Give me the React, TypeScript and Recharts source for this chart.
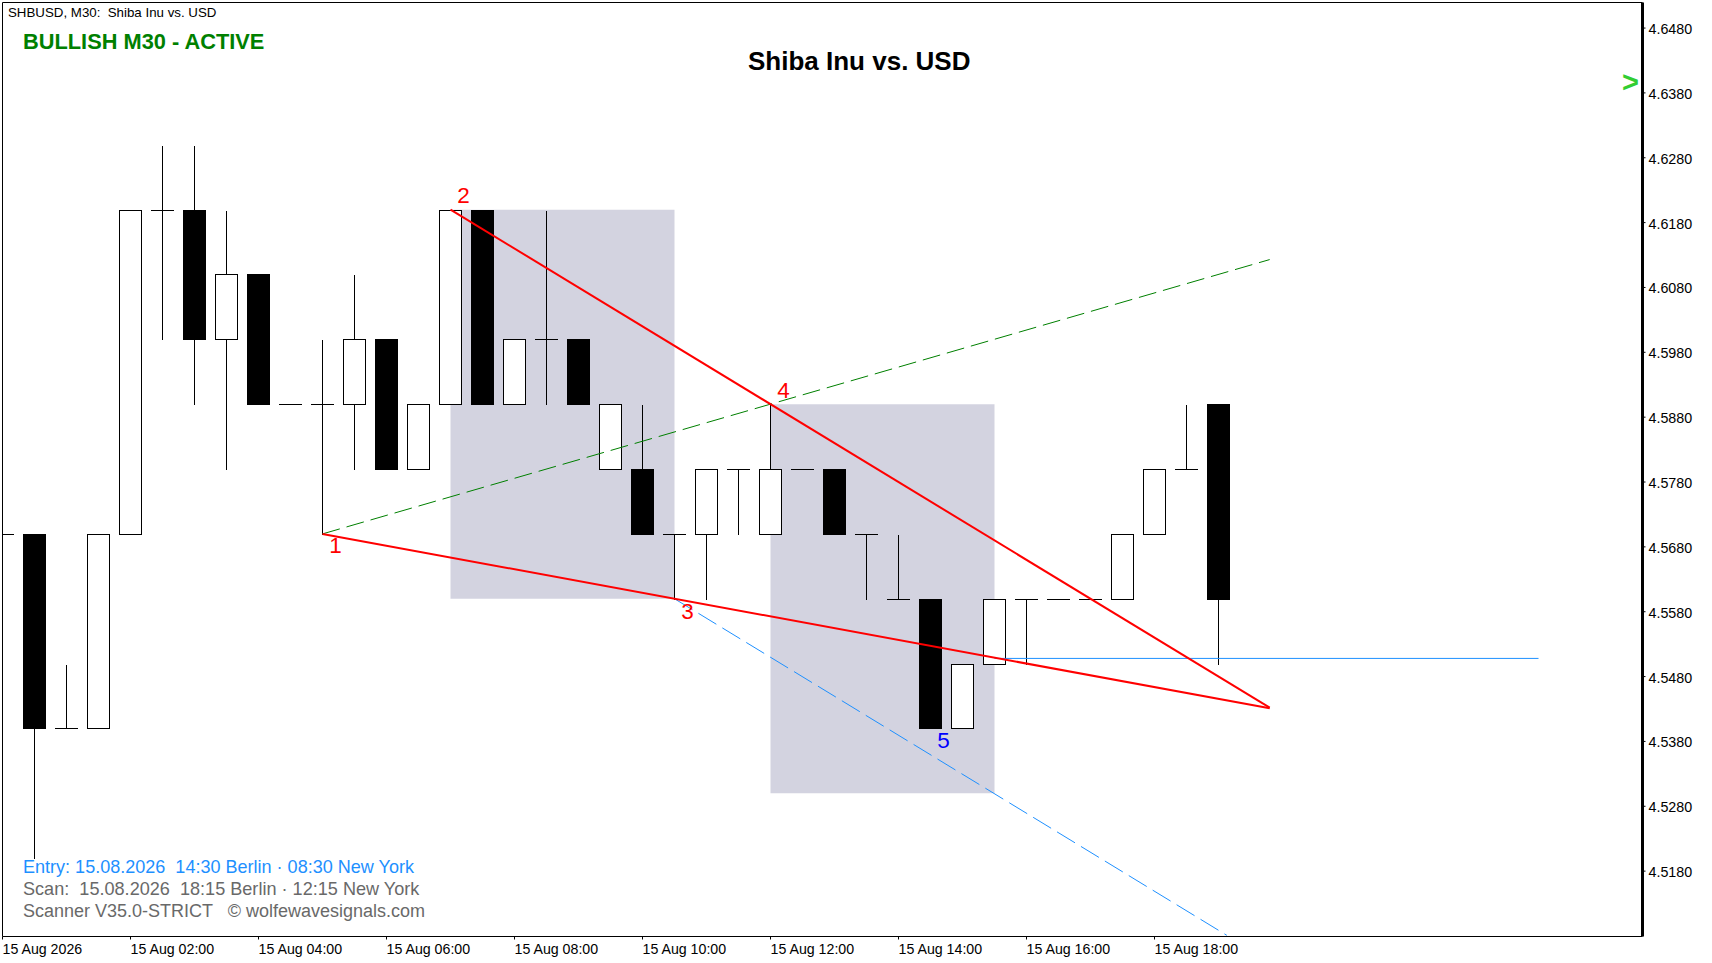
import React from "react";
import { ComposedChart, Bar, Line, XAxis, YAxis, ReferenceArea, ReferenceLine } from "recharts";

const FONT = "'Liberation Sans', Arial, sans-serif";

// bar number, 0 = 00:30, -1 = 00:00 (half cut by the left edge)
const bars = [-1,0,1,2,3,4,5,6,7,8,9,10,11,12,13,14,15,16,17,18,19,20,21,22,23,24,25,26,27,28,29,30,31,32,33,34,35,36,37];
const opens = [4.57,4.57,4.54,4.54,4.57,4.62,4.62,4.60,4.61,4.59,4.59,4.59,4.60,4.58,4.59,4.62,4.59,4.60,4.60,4.58,4.58,4.57,4.57,4.58,4.57,4.58,4.58,4.57,4.56,4.56,4.54,4.55,4.56,4.56,4.56,4.56,4.57,4.58,4.59];
const closes = [4.57,4.54,4.54,4.57,4.62,4.62,4.60,4.61,4.59,4.59,4.59,4.60,4.58,4.59,4.62,4.59,4.60,4.60,4.59,4.59,4.57,4.57,4.58,4.58,4.58,4.58,4.57,4.57,4.56,4.54,4.55,4.56,4.56,4.56,4.56,4.57,4.58,4.58,4.56];
const highs = [4.57,4.57,4.55,4.57,4.62,4.63,4.63,4.62,4.61,4.59,4.60,4.61,4.60,4.59,4.62,4.62,4.60,4.62,4.60,4.59,4.59,4.57,4.58,4.58,4.59,4.58,4.58,4.57,4.57,4.56,4.55,4.56,4.56,4.56,4.56,4.57,4.58,4.59,4.59];
const lows = [4.57,4.52,4.54,4.54,4.57,4.60,4.59,4.58,4.59,4.59,4.57,4.58,4.58,4.58,4.59,4.59,4.59,4.59,4.59,4.58,4.57,4.56,4.56,4.57,4.57,4.58,4.57,4.56,4.56,4.54,4.54,4.55,4.55,4.56,4.56,4.56,4.57,4.58,4.55];

const priceTicks = [4.518,4.528,4.538,4.548,4.558,4.568,4.578,4.588,4.598,4.608,4.618,4.628,4.638,4.648];
const timeTicks = [-1,3,7,11,15,19,23,27,31,35];
const timeLabels = ["15 Aug 2026","15 Aug 02:00","15 Aug 04:00","15 Aug 06:00","15 Aug 08:00","15 Aug 10:00","15 Aug 12:00","15 Aug 14:00","15 Aug 16:00","15 Aug 18:00"];

// wolfe wave lines, [from, to]
const lineOneThree = [{ x: 9, y: 4.57 }, { x: 38.6, y: 4.5431 }];
const lineTwoFour = [{ x: 13, y: 4.62 }, { x: 38.6, y: 4.5432 }];
const lineOneFour = [{ x: 9, y: 4.57 }, { x: 38.6, y: 4.6123 }];
const lineThreeDown = [{ x: 20, y: 4.56 }, { x: 37.26, y: 4.5081 }];
const entryLine = [{ x: 30, y: 4.5508 }, { x: 47, y: 4.5508 }];

const wavePoints = [
  { i: 9, price: 4.57, name: "1", dy: 11, color: "#ff0000" },
  { i: 13, price: 4.62, name: "2", dy: -15, color: "#ff0000" },
  { i: 20, price: 4.56, name: "3", dy: 12, color: "#ff0000" },
  { i: 23, price: 4.59, name: "4", dy: -14, color: "#ff0000" },
  { i: 28, price: 4.54, name: "5", dy: 12, color: "#0000ff" },
];

const chartData = bars.map((i, k) => ({ i, open: opens[k], close: closes[k], high: highs[k], low: lows[k] }));

function Candle(props: any) {
  const { x, y, width, height, payload } = props;
  const { open, close, high, low } = payload;
  const k = high > low ? height / (high - low) : 0;
  const top = Math.round(y + (high - Math.max(open, close)) * k);
  const bottom = Math.round(y + (high - Math.min(open, close)) * k);
  const left = Math.round(x);
  const right = left + Math.round(width);
  const mid = Math.floor((left + right) / 2) + 0.5;
  const down = close < open;
  return (
    <g shapeRendering="crispEdges">
      <line x1={mid} x2={mid} y1={Math.round(y) + 0.5} y2={Math.round(y + height) + 0.5} stroke="#000" />
      {open === close ? (
        <line x1={left} x2={right} y1={top + 0.5} y2={top + 0.5} stroke="#000" />
      ) : (
        <rect
          x={left + 0.5}
          y={top + 0.5}
          width={right - left - 1}
          height={bottom - top}
          fill={down ? "#000" : "#fff"}
          stroke="#000"
        />
      )}
    </g>
  );
}

function TimeTick(props: any) {
  const { x, y, payload } = props;
  return (
    <text x={x} y={y + 14} textAnchor="start" fontSize={14.2} fill="#000" fontFamily={FONT}>
      {timeLabels[timeTicks.indexOf(payload.value)]}
    </text>
  );
}

function PriceTick(props: any) {
  const { x, y, payload } = props;
  return (
    <text x={x} y={y + 6} textAnchor="start" fontSize={14.3} fill="#000" fontFamily={FONT}>
      {payload.value.toFixed(4)}
    </text>
  );
}

function WaveLabel(props: any) {
  const { cx, cy, payload } = props;
  return (
    <text key={payload.name} x={cx + 13} y={cy + payload.dy + 8} textAnchor="middle" fontSize={22.5} fill={payload.color} fontFamily={FONT}>
      {payload.name}
    </text>
  );
}

function Note({ x, y, size, color, bold, children }: any) {
  return (
    <div style={{ position: "absolute", left: x, top: y, transform: "translateY(-50%)", fontSize: size, color, fontWeight: bold ? 700 : 400, fontFamily: FONT, whiteSpace: "pre", lineHeight: 1 }}>
      {children}
    </div>
  );
}

export default function App() {
  return (
    <div style={{ position: "fixed", left: 0, top: 0, width: 1712, height: 963, background: "#fff" }}>
      <ComposedChart width={1712} height={963} data={chartData} margin={{ top: 2.5, left: 2.5, right: 0.5, bottom: 0.5 }} barSize={23}>
        <XAxis dataKey="i" type="number" domain={[-1, 50.25]} allowDataOverflow ticks={timeTicks} interval={0} height={26} tickSize={3} tickMargin={0} stroke="#000" tick={<TimeTick />} />
        <YAxis orientation="right" type="number" domain={[4.50792, 4.65194]} allowDataOverflow ticks={priceTicks} interval={0} width={69} tickSize={3} tickMargin={3} axisLine={{ stroke: "#000", strokeWidth: 3 }} tickLine={{ stroke: "#000" }} tick={<PriceTick />} />
        <ReferenceArea x1={13} x2={20} y1={4.56} y2={4.62} fill="#d3d3e0" fillOpacity={1} stroke="none" />
        <ReferenceArea x1={23} x2={30} y1={4.53} y2={4.59} fill="#d3d3e0" fillOpacity={1} stroke="none" />
        <ReferenceLine x={-1} stroke="#000" />
        <ReferenceLine y={4.65194} stroke="#000" />
        <Bar dataKey={(d: any) => [d.low, d.high]} shape={<Candle />} isAnimationActive={false} />
        <ReferenceLine segment={lineOneFour} stroke="#008000" strokeWidth={1} strokeDasharray="18 7" />
        <ReferenceLine segment={lineThreeDown} stroke="#1e90ff" strokeWidth={1} strokeDasharray="21 7" />
        <ReferenceLine segment={entryLine} stroke="#1e90ff" strokeWidth={1} />
        <ReferenceLine segment={lineOneThree} stroke="#ff0000" strokeWidth={2} />
        <ReferenceLine segment={lineTwoFour} stroke="#ff0000" strokeWidth={2} />
        <Line data={wavePoints} dataKey="price" stroke="none" dot={<WaveLabel />} isAnimationActive={false} />
      </ComposedChart>
      <Note x={8} y={13} size={13.3} color="#000">{"SHBUSD, M30:  Shiba Inu vs. USD"}</Note>
      <Note x={23} y={41.5} size={21.8} color="#008000" bold>BULLISH M30 - ACTIVE</Note>
      <Note x={748} y={61} size={26} color="#000" bold>Shiba Inu vs. USD</Note>
      <Note x={1622} y={82} size={29} color="#32cd32" bold>{">"}</Note>
      <Note x={23} y={867} size={18.05} color="#1e90ff">{"Entry: 15.08.2026  14:30 Berlin · 08:30 New York"}</Note>
      <Note x={23} y={889} size={18.1} color="#696969">{"Scan:  15.08.2026  18:15 Berlin · 12:15 New York"}</Note>
      <Note x={23} y={911} size={18} color="#696969">{"Scanner V35.0-STRICT   © wolfewavesignals.com"}</Note>
    </div>
  );
}
